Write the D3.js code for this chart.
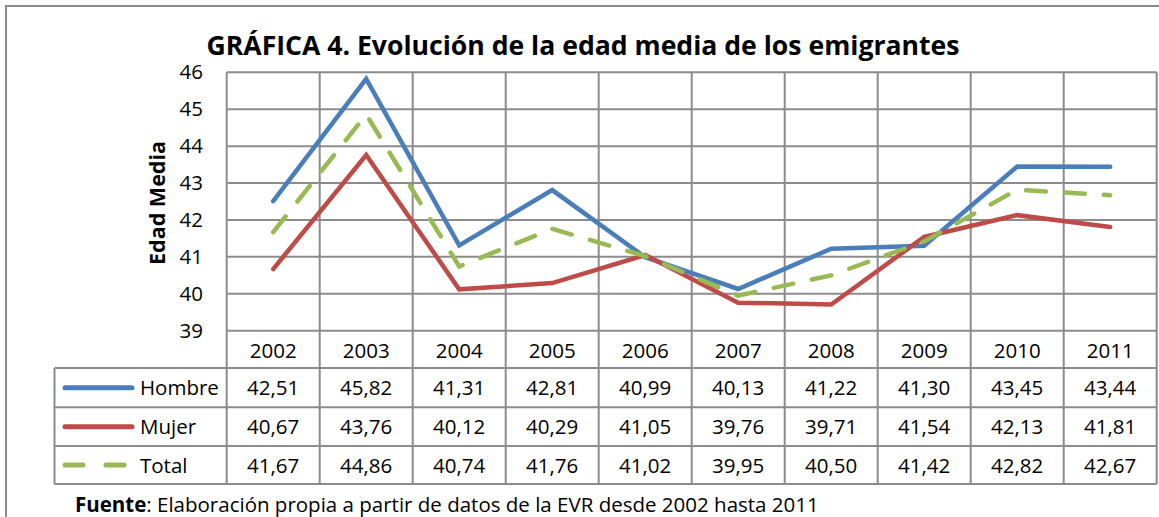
<!DOCTYPE html>
<html><head><meta charset="utf-8">
<script src="https://cdn.jsdelivr.net/npm/d3@7"></script>
<style>body{margin:0;background:#fff;} text{font-family:"Open Sans",sans-serif;fill:#000;}</style>
</head><body>
<svg id="c" width="1159" height="517"></svg>
<script>
const years = ["2002","2003","2004","2005","2006","2007","2008","2009","2010","2011"];
const hombre = [42.51,45.82,41.31,42.81,40.99,40.13,41.22,41.30,43.45,43.44];
const mujer  = [40.67,43.76,40.12,40.29,41.05,39.76,39.71,41.54,42.13,41.81];
const total  = [41.67,44.86,40.74,41.76,41.02,39.95,40.50,41.42,42.82,42.67];
const seriesNames = ["Hombre","Mujer","Total"];
const yTicks = [39,40,41,42,43,44,45,46];
const title = "GRÁFICA 4. Evolución de la edad media de los emigrantes";
const yTitle = "Edad Media";

const colors = ["#4A7EBB","#BE4B48","#98B954"];
const dashes = [null,null,"20,19"];
const series = [hombre,mujer,total];
const fmt = v => v.toFixed(2).replace(".", ",");

const svg = d3.select("#c");
const L = 226.7, R = 1156.7, T = 72.3, B = 330.7;
const x = d3.scaleBand().domain(years).range([L,R]);
const y = d3.scaleLinear().domain([39,46]).range([B,T]);
const grid = "#8c8c8c";
const fs = 20.5;

// outer border
svg.append("rect").attr("x",6).attr("y",6).attr("width",1160).attr("height",520)
  .attr("fill","none").attr("stroke","#8a8a8a").attr("stroke-width",2);

// title
svg.append("text").attr("x",583).attr("y",55).attr("text-anchor","middle")
  .attr("font-weight","bold").attr("font-size",26.6).text(title);

// horizontal gridlines
svg.append("g").selectAll("line").data(yTicks).join("line")
  .attr("x1",L).attr("x2",R).attr("y1",d=>y(d)).attr("y2",d=>y(d))
  .attr("stroke",grid).attr("stroke-width",2);
// vertical gridlines (category boundaries)
const bounds = years.map(d=>x(d)).concat([R]);
const rowH = [368, 407.3, 446, 484];
svg.append("g").selectAll("line").data(bounds).join("line")
  .attr("x1",d=>d).attr("x2",d=>d).attr("y1",T).attr("y2",rowH[3])
  .attr("stroke",grid).attr("stroke-width",2);
// table horizontal lines
svg.append("g").selectAll("line").data(rowH).join("line")
  .attr("x1",54.5).attr("x2",R).attr("y1",d=>d).attr("y2",d=>d)
  .attr("stroke",grid).attr("stroke-width",2);
svg.append("line").attr("x1",54.5).attr("x2",54.5).attr("y1",rowH[0]).attr("y2",rowH[3])
  .attr("stroke",grid).attr("stroke-width",2);

// y tick labels
svg.append("g").selectAll("text").data(yTicks).join("text")
  .attr("x",203).attr("y",d=>y(d)+7).attr("text-anchor","end").attr("font-size",fs).text(d=>d);

// y title
svg.append("text").attr("transform","translate(165,203) rotate(-90)").attr("text-anchor","middle")
  .attr("font-weight","bold").attr("font-size",21.5).text(yTitle);

// year header
svg.append("g").selectAll("text").data(years).join("text")
  .attr("x",d=>x(d)+x.bandwidth()/2).attr("y",357.5).attr("text-anchor","middle").attr("font-size",fs).text(d=>d);

// lines
const line = d3.line().x((d,i)=>x(years[i])+x.bandwidth()/2).y(d=>y(d));
series.forEach((s,k)=>{
  svg.append("path").datum(s).attr("d",line).attr("fill","none")
    .attr("stroke",colors[k]).attr("stroke-width",4.5).attr("stroke-linejoin","miter")
    .attr("stroke-linecap","round")
    .attr("stroke-dasharray",dashes[k]);
});

// table rows
series.forEach((s,k)=>{
  const cy = (rowH[k]+rowH[k+1])/2;
  svg.append("line").attr("x1",65).attr("x2",132).attr("y1",cy).attr("y2",cy)
    .attr("stroke",colors[k]).attr("stroke-width",5).attr("stroke-linecap","round")
    .attr("stroke-dasharray", k===2 ? "18,23" : null);
  svg.append("text").attr("x",140).attr("y",cy+7.5).attr("font-size",fs).text(seriesNames[k]);
  svg.append("g").selectAll("text").data(s).join("text")
    .attr("x",(d,i)=>x(years[i])+x.bandwidth()/2).attr("y",cy+7.5).attr("text-anchor","middle")
    .attr("font-size",fs).text(d=>fmt(d));
});

// source
const src = svg.append("text").attr("x",75).attr("y",512).attr("font-size",20.5);
src.append("tspan").attr("font-weight","bold").text("Fuente");
src.append("tspan").text(": Elaboración propia a partir de datos de la EVR desde 2002 hasta 2011");
</script>
</body></html>
